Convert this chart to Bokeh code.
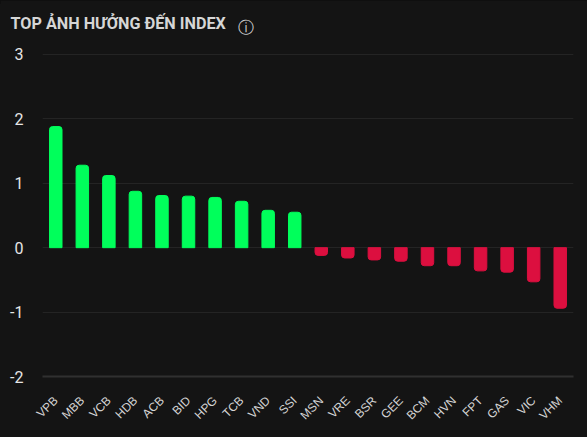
from bokeh.plotting import figure
from bokeh.embed import file_html
from bokeh.resources import INLINE
from bokeh.models import FactorRange, Range1d, FixedTicker, Title
import math

TITLE = "TOP ẢNH HƯỞNG ĐẾN INDEX"
ICON = "ⓘ"
up_names = ["VPB", "MBB", "VCB", "HDB", "ACB", "BID", "HPG", "TCB", "VND", "SSI"]
up_values = [1.88, 1.28, 1.12, 0.875, 0.81, 0.80, 0.78, 0.72, 0.58, 0.55]
down_names = ["MSN", "VRE", "BSR", "GEE", "BCM", "HVN", "FPT", "GAS", "VIC", "VHM"]
down_values = [-0.12, -0.16, -0.19, -0.21, -0.28, -0.28, -0.36, -0.38, -0.53, -0.94]
y_ticks = [-2, -1, 0, 1, 2, 3]

BG = "#141414"
p = figure(width=587, height=437, output_backend="svg", toolbar_location=None,
           x_range=FactorRange(*(up_names + down_names), range_padding=0, factor_padding=0),
           y_range=Range1d(-2, 3.03),
           background_fill_color=BG, border_fill_color=BG,
           min_border_left=42, min_border_right=14, min_border_top=52, min_border_bottom=61)
p.outline_line_color = None

p.vbar(x=up_names, top=up_values, bottom=0, width=0.47, color="#00ff5b", border_radius=(3, 3, 0, 0))
p.vbar(x=down_names, top=0, bottom=down_values, width=0.47, color="#dc0f3f", border_radius=(0, 0, 3, 3))

p.xgrid.visible = False
p.ygrid.grid_line_color = "#242424"
p.ygrid.grid_line_width = 1
p.yaxis.ticker = FixedTicker(ticks=y_ticks)
p.yaxis.major_label_overrides = {t: str(t) for t in y_ticks}
p.yaxis.axis_line_color = None
p.yaxis.major_tick_line_color = None
p.yaxis.minor_tick_line_color = None
p.yaxis.major_label_text_font = "Roboto"
p.yaxis.major_label_text_font_size = "16px"
p.yaxis.major_label_text_color = "#e6e6e6"
p.yaxis.major_label_standoff = 13

p.xaxis.axis_line_color = "#303030"
p.xaxis.axis_line_width = 2
p.xaxis.major_tick_line_color = None
p.xaxis.minor_tick_line_color = None
p.xaxis.major_label_orientation = math.pi / 4
p.xaxis.major_label_text_font = "Liberation Sans"
p.xaxis.major_label_text_font_size = "12px"
p.xaxis.major_label_text_color = "#d4d4d4"
p.xaxis.major_label_standoff = 16

p.add_layout(Title(text=ICON, align="left", offset=195.5, standoff=31,
                   text_font="DejaVu Sans", text_font_style="normal", text_font_size="16px",
                   text_color="#d0d0d0"), "above")
p.add_layout(Title(text=TITLE, align="left", offset=-32, standoff=-64,
                   text_font="Roboto", text_font_style="bold", text_font_size="16.2px",
                   text_color="#d6d6d6"), "above")

html = file_html(p, INLINE)
html = html.replace("</head>", "<style>html,body{background:linear-gradient(#0e0e0e 4px,%s 4px) no-repeat,%s;overflow:hidden}</style></head>" % (BG, BG), 1)
open("out.html", "w").write(html)
